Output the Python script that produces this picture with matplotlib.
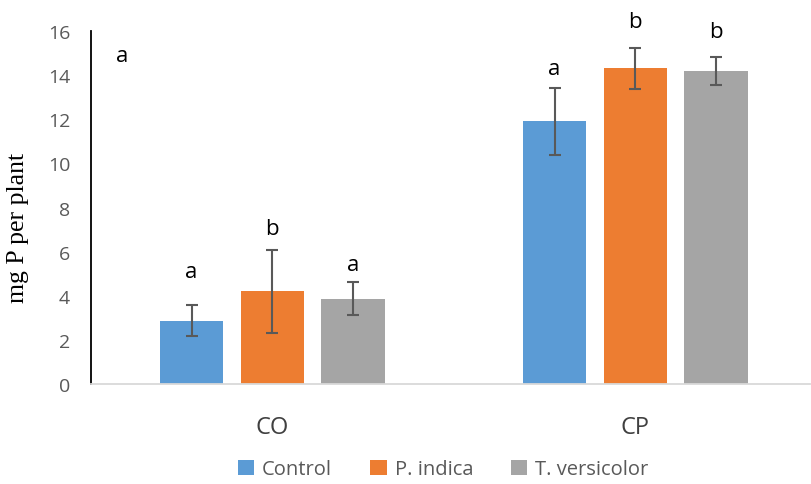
import numpy as np
import matplotlib.pyplot as plt

groups = ['CO', 'CP']
series = ['Control', 'P. indica', 'T. versicolor']
values = {
    'Control': [2.88, 11.91],
    'P. indica': [4.20, 14.31],
    'T. versicolor': [3.86, 14.19],
}
errors = {
    'Control': [0.72, 1.52],
    'P. indica': [1.87, 0.92],
    'T. versicolor': [0.75, 0.65],
}
letters = {
    'Control': ['a', 'a'],
    'P. indica': ['b', 'b'],
    'T. versicolor': ['a', 'b'],
}
letter_y = {
    'Control': [5.12, 14.28],
    'P. indica': [7.05, 16.45],
    'T. versicolor': [5.4, 16.0],
}
colors = ['#5B9BD5', '#ED7D31', '#A5A5A5']

fig = plt.figure(figsize=(8.12, 4.85), dpi=100)
ax = fig.add_axes([0.112, 0.206, 0.885, 0.728])

x = np.arange(len(groups))
width = 0.175
offsets = [-0.2225, 0, 0.2225]

for i, s in enumerate(series):
    xs = x + offsets[i]
    ax.bar(xs, values[s], width, color=colors[i], label=s, zorder=2)
    ax.errorbar(xs, values[s], yerr=errors[s], fmt='none', ecolor='#595959',
                elinewidth=1.5, capsize=4, capthick=1.5, zorder=3)
    for j in range(len(groups)):
        ax.text(xs[j], letter_y[s][j], letters[s][j], ha='center', va='center',
                fontsize=16, family='Open Sans', color='black')

# stray letter in the top-left corner
ax.text(-0.415, 14.89, 'a', ha='center', va='center', fontsize=16,
        family='Open Sans', color='black')

ax.set_xlim(-0.5, 1.48)
ax.set_ylim(0, 16)
ax.set_yticks(range(0, 17, 2))
ax.set_xticks(x)
ax.set_xticklabels(groups, fontsize=17, family='Open Sans', color='#404040')
ax.tick_params(axis='x', length=0, pad=22)
ax.tick_params(axis='y', length=0, pad=15, labelsize=14, labelcolor='#595959')
for lab in ax.get_yticklabels():
    lab.set_family('Open Sans')

ax.spines['top'].set_visible(False)
ax.spines['right'].set_visible(False)
ax.spines['left'].set_color('black')
ax.spines['left'].set_linewidth(1.3)
ax.spines['bottom'].set_color('#D9D9D9')
ax.spines['bottom'].set_linewidth(1.3)

ax.set_ylabel('mg P per plant', family='Liberation Serif', fontsize=18.5)
ax.yaxis.set_label_coords(-0.086, 0.445)

leg = fig.legend(loc='center', bbox_to_anchor=(0.546, 0.03), ncol=3, frameon=False,
                 prop={'family': 'Open Sans', 'size': 14.5}, handlelength=0.8,
                 handleheight=0.8, handletextpad=0.4, columnspacing=1.9,
                 borderaxespad=0, borderpad=0.1)
for t in leg.get_texts():
    t.set_color('#595959')

fig.savefig('out.png', dpi=100)
